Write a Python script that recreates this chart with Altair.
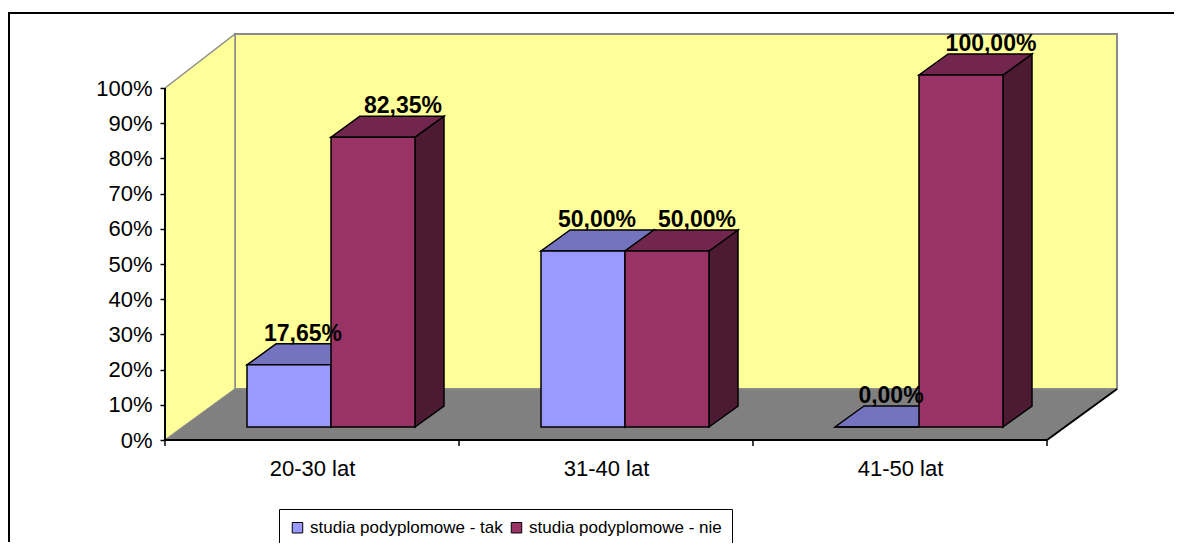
import json
import altair as alt
import pandas as pd

# ---------------- data ----------------
categories = ["20-30 lat", "31-40 lat", "41-50 lat"]
series_names = ["studia podyplomowe - tak", "studia podyplomowe - nie"]
values_tak = [17.65, 50.00, 0.00]
values_nie = [82.35, 50.00, 100.00]
y_ticks = [0, 10, 20, 30, 40, 50, 60, 70, 80, 90, 100]

# ---------------- style / geometry (pixels) ----------------
FONT = "Liberation Sans"
FACE = {
    series_names[0]: {"front": "#9999FF", "top": "#7373BF", "side": "#4D4D80"},
    series_names[1]: {"front": "#993366", "top": "#73264D", "side": "#4C1A33"},
}
LABEL_DX = {series_names[0]: 14, series_names[1]: 30}
WALL_YELLOW = "#FFFF99"
FLOOR_GRAY = "#808080"
EDGE_GRAY = "#8C8C8C"

CAT_PX = 294          # pixels per category
PCT_PX = 3.52         # pixels per 1 %
WALL_DX, WALL_DY = 70, 51
BAR_LEFT, BAR_W = 82, 84
BAR_BASE = 13
BAR_DX, BAR_DY = 29, 21

W = len(categories) * CAT_PX + WALL_DX
H = 406
X_MAX = W / CAT_PX
Y_MAX = H / PCT_PX
PAD = {"left": 157, "top": 26, "right": 57, "bottom": 103}


def ux(p):
    return p / CAT_PX


def uy(p):
    return p / PCT_PX


xs = alt.Scale(domain=[0, X_MAX], nice=False, zero=False)
ys = alt.Scale(domain=[0, Y_MAX], nice=False, zero=False)

# ---------------- build tables ----------------
front, top, side, labels = [], [], [], []
for i, cat in enumerate(categories):
    for j, (s, vals) in enumerate(zip(series_names, [values_tak, values_nie])):
        v = vals[i]
        xl = i + ux(BAR_LEFT + j * BAR_W)
        xr = xl + ux(BAR_W)
        y0 = uy(BAR_BASE)
        y1 = y0 + v
        bid = f"{i}-{j}"
        front.append({"id": bid, "series": s, "x": xl, "x2": xr, "y": y0, "y2": y1})
        top.append({"id": bid, "fc": FACE[s]["top"], "y": y1, "xa": xl, "xb": xr})
        top.append({"id": bid, "fc": FACE[s]["top"], "y": y1 + uy(BAR_DY),
                    "xa": xl + ux(BAR_DX), "xb": xr + ux(BAR_DX)})
        side.append({"id": bid, "fc": FACE[s]["side"], "x": xr, "ya": y0, "yb": y1})
        side.append({"id": bid, "fc": FACE[s]["side"], "x": xr + ux(BAR_DX),
                     "ya": y0 + uy(BAR_DY), "yb": y1 + uy(BAR_DY)})
        labels.append({"x": (xl + xr) / 2 + ux(LABEL_DX[s]),
                       "y": y1 + uy(BAR_DY + 3),
                       "t": f"{v:.2f}%".replace(".", ",")})

front_df = pd.DataFrame(front)
top_df = pd.DataFrame(top)
side_df = pd.DataFrame(side)
label_df = pd.DataFrame(labels)

n = len(categories)
back_df = pd.DataFrame([{"x": ux(WALL_DX), "x2": X_MAX, "y": uy(WALL_DY), "y2": Y_MAX}])
leftwall_df = pd.DataFrame([
    {"x": 0, "ya": 0, "yb": 100},
    {"x": ux(WALL_DX), "ya": uy(WALL_DY), "yb": Y_MAX},
])
floor_df = pd.DataFrame([
    {"y": 0, "xa": 0, "xb": n},
    {"y": uy(WALL_DY), "xa": ux(WALL_DX), "xb": X_MAX},
])
edges_df = pd.DataFrame([
    {"x": 0, "y": 0, "x2": n, "y2": 0},                 # x axis line
    {"x": 0, "y": 0, "x2": 0, "y2": 100},               # y axis line
    {"x": n, "y": 0, "x2": X_MAX, "y2": uy(WALL_DY)},   # floor right edge
])
xticks_df = pd.DataFrame({"x": list(range(n + 1)), "y": [0] * (n + 1)})

# ---------------- axes ----------------
x_axis = alt.Axis(
    values=[i + 0.5 for i in range(n)],
    labelExpr=f"{json.dumps(categories)}[floor(datum.value)]",
    tickSize=0, ticks=False, domain=False, grid=False, title=None,
    labelFont=FONT, labelFontSize=22, labelColor="black",
    labelPadding=18, labelFlush=False,
)
y_axis = alt.Axis(
    values=y_ticks, labelExpr="datum.value + '%'",
    tickSize=5, tickColor="black", tickWidth=1.5, domain=False, grid=False, title=None,
    labelFont=FONT, labelFontSize=22, labelColor="black", labelPadding=8,
)


def X(f, **kw):
    kw.setdefault("axis", x_axis)
    return alt.X(f, type="quantitative", scale=xs, **kw)


def Y(f, **kw):
    kw.setdefault("axis", y_axis)
    return alt.Y(f, type="quantitative", scale=ys, **kw)


# ---------------- layers ----------------
back = alt.Chart(back_df).mark_rect(fill=WALL_YELLOW, stroke=EDGE_GRAY, strokeWidth=2, opacity=1).encode(
    x=X("x"), x2="x2", y=Y("y"), y2="y2")

leftwall = alt.Chart(leftwall_df).mark_area(
    orient="vertical", fill=WALL_YELLOW, stroke=EDGE_GRAY, strokeWidth=1.5, opacity=1).encode(
    x=X("x"), y=Y("ya", stack=None), y2="yb")

floor = alt.Chart(floor_df).mark_area(
    orient="horizontal", fill=FLOOR_GRAY, stroke=EDGE_GRAY, strokeWidth=1, opacity=1).encode(
    y=Y("y"), x=X("xa", stack=None), x2="xb")

edges = alt.Chart(edges_df).mark_rule(color="black", strokeWidth=2).encode(
    x=X("x"), y=Y("y"), x2="x2", y2="y2")

xticks = alt.Chart(xticks_df).mark_rule(color="black", strokeWidth=1.5, y2Offset=6).encode(
    x=X("x"), y=Y("y"), y2="y")

sides = alt.Chart(side_df).mark_area(
    orient="vertical", stroke="black", strokeWidth=1.5, opacity=1).encode(
    x=X("x"), y=Y("ya", stack=None), y2="yb", detail="id:N",
    fill=alt.Fill("fc:N", scale=None))

tops = alt.Chart(top_df).mark_area(
    orient="horizontal", stroke="black", strokeWidth=1.5, opacity=1).encode(
    y=Y("y"), x=X("xa", stack=None), x2="xb", detail="id:N",
    fill=alt.Fill("fc:N", scale=None))

fronts = alt.Chart(front_df).mark_rect(stroke="black", strokeWidth=1.5, opacity=1).encode(
    x=X("x"), x2="x2", y=Y("y"), y2="y2",
    color=alt.Color(
        "series:N",
        scale=alt.Scale(domain=series_names, range=[FACE[s]["front"] for s in series_names]),
        legend=alt.Legend(
            orient="none", legendX=114, legendY=475, direction="horizontal", title=None,
            strokeColor="black", fillColor="white", padding=10, cornerRadius=0,
            labelFont=FONT, labelFontSize=17, labelColor="black", labelLimit=400,
            symbolType="square", symbolSize=110, symbolStrokeColor="black",
            symbolStrokeWidth=1, symbolOpacity=1, columnPadding=5, labelOffset=4,
        ),
    ),
)

texts = alt.Chart(label_df).mark_text(
    font=FONT, fontSize=23, fontWeight="bold", color="black",
    align="center", baseline="alphabetic").encode(
    x=X("x"), y=Y("y"), text="t:N")

# outer chart-area border (top and left edges; the rest lies outside the picture)
frame_df = pd.DataFrame({"a": [0]})
frame_top = alt.Chart(frame_df).mark_rect(fill="black", strokeWidth=0, opacity=1).encode(
    x=alt.value(-PAD["left"]), x2=alt.value(W + PAD["right"]),
    y=alt.value(-22), y2=alt.value(-20))
frame_left = alt.Chart(frame_df).mark_rule(color="black", strokeWidth=2).encode(
    x=alt.value(-PAD["left"] + 1), y=alt.value(-21), y2=alt.value(H + PAD["bottom"] - 1))

chart = alt.layer(
    back, leftwall, floor, edges, xticks, sides, tops, fronts, texts, frame_top, frame_left
).properties(
    width=W, height=H,
    background="white",
    autosize=alt.AutoSizeParams(type="none"),
    padding=PAD,
).configure_view(stroke=None)

chart.save("out.html", embed_options={"renderer": "svg", "actions": False})
